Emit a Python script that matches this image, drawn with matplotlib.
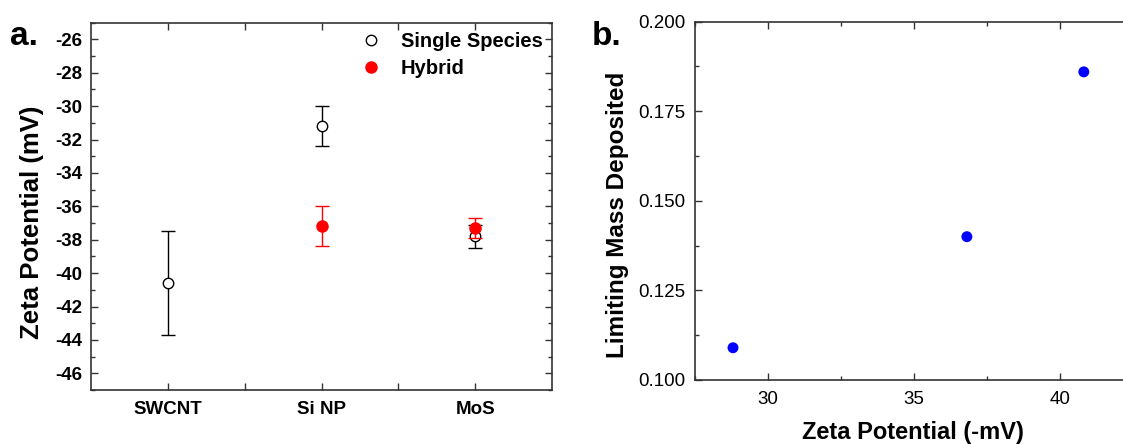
import matplotlib
matplotlib.use("Agg")
import matplotlib.pyplot as plt
from matplotlib.lines import Line2D
from matplotlib.ticker import MultipleLocator, FixedLocator

plt.rcParams['font.family'] = ['Liberation Sans', 'DejaVu Sans']
plt.rcParams['axes.unicode_minus'] = False

# ---- data: panel a ----
categories = ["SWCNT", "Si NP", "MoS"]
single_vals = [-40.6, -31.2, -37.8]
single_err = [3.1, 1.2, 0.7]
hybrid_cats = ["Si NP", "MoS"]
hybrid_vals = [-37.2, -37.3]
hybrid_err = [1.2, 0.6]

# ---- data: panel b ----
zeta_neg = [28.8, 36.8, 40.8]
mass_dep = [0.109, 0.140, 0.186]

W, H = 1123, 444
fig = plt.figure(figsize=(W / 100, H / 100), dpi=100)


def box(l, r, t, b):
    return [l / W, 1 - b / H, (r - l) / W, (b - t) / H]


spine_col = '#333333'

# ---------------- panel a ----------------
ax = fig.add_axes(box(91, 552, 22.7, 390))
xpos = {c: i + 1 for i, c in enumerate(categories)}
xs = [xpos[c] for c in categories]
ax.errorbar(xs, single_vals, yerr=single_err, fmt='o', color='black',
            mfc='white', mec='black', ms=7.5, mew=1.0, elinewidth=1.0,
            capsize=4.7, capthick=1.0, zorder=3)
xh = [xpos[c] for c in hybrid_cats]
ax.errorbar(xh, hybrid_vals, yerr=hybrid_err, fmt='o', color='#ff0000',
            mfc='#ff0000', mec='#ff0000', ms=8, elinewidth=1.0,
            capsize=4.7, capthick=1.0, zorder=4)
ax.set_xlim(0.5, 3.5)
ax.set_ylim(-47, -25)
ax.xaxis.set_major_locator(FixedLocator(xs))
ax.xaxis.set_minor_locator(FixedLocator([1.5, 2.5]))
ax.set_xticklabels(categories)
ax.yaxis.set_major_locator(MultipleLocator(2))
ax.yaxis.set_minor_locator(MultipleLocator(1))
ax.tick_params(which='both', direction='in', top=True, right=True,
               color=spine_col, width=1.0)
ax.tick_params(which='major', length=5)
ax.tick_params(which='minor', length=3)
ax.tick_params(axis='x', which='major', length=5, pad=8)
ax.tick_params(axis='x', which='minor', length=5)
ax.tick_params(axis='y', pad=6)
for lab in ax.get_xticklabels() + ax.get_yticklabels():
    lab.set_fontweight('bold')
    lab.set_fontsize(13.5)
for s in ax.spines.values():
    s.set_color(spine_col)
    s.set_linewidth(1.2)

handles = [Line2D([], [], ls='none', marker='o', ms=7.5, mfc='white', mec='black', mew=1.0),
           Line2D([], [], ls='none', marker='o', ms=8, mfc='#ff0000', mec='#ff0000')]
leg = ax.legend(handles, ["Single Species", "Hybrid"], loc='upper left',
                bbox_to_anchor=((361 - 91) / 461, (390 - 32) / 367.3),
                frameon=False, handlelength=1.0, handletextpad=0.99,
                borderpad=0, borderaxespad=0, labelspacing=0.42,
                prop={'weight': 'bold', 'size': 14.5})

fig.text(32 / W, 1 - 222 / H, "Zeta Potential (mV)", rotation=90,
         ha='center', va='center', fontsize=18.5, fontweight='bold')
fig.text(10 / W, 1 - 45 / H, "a.", ha='left', va='baseline',
         fontsize=24, fontweight='bold')

# ---------------- panel b ----------------
bx = fig.add_axes(box(695, 1133.5, 21.7, 380))
bx.scatter(zeta_neg, mass_dep, s=62, color='#0000ff', edgecolors='none', zorder=3)
bx.set_xlim(27.5, 42.5)
bx.set_ylim(0.1, 0.2)
bx.xaxis.set_major_locator(MultipleLocator(5))
bx.xaxis.set_minor_locator(MultipleLocator(2.5))
bx.yaxis.set_major_locator(MultipleLocator(0.025))
bx.yaxis.set_minor_locator(MultipleLocator(0.0125))
bx.yaxis.set_major_formatter(plt.FuncFormatter(lambda v, p: f"{v:.3f}"))
bx.tick_params(which='both', direction='in', top=True, right=True,
               color=spine_col, width=1.0, labelsize=13.5)
bx.tick_params(which='major', length=5)
bx.tick_params(which='minor', length=3)
bx.tick_params(axis='x', pad=8)
bx.tick_params(axis='y', pad=7)
for s in bx.spines.values():
    s.set_color(spine_col)
    s.set_linewidth(1.2)

fig.text(617 / W, 1 - 215 / H, "Limiting Mass Deposited", rotation=90,
         ha='center', va='center', fontsize=17.5, fontweight='bold')
fig.text(913 / W, 1 - 432 / H, "Zeta Potential (-mV)", ha='center', va='center',
         fontsize=17, fontweight='bold')
fig.text(592 / W, 1 - 45 / H, "b.", ha='left', va='baseline',
         fontsize=24, fontweight='bold')

fig.savefig("out.png", dpi=100)
